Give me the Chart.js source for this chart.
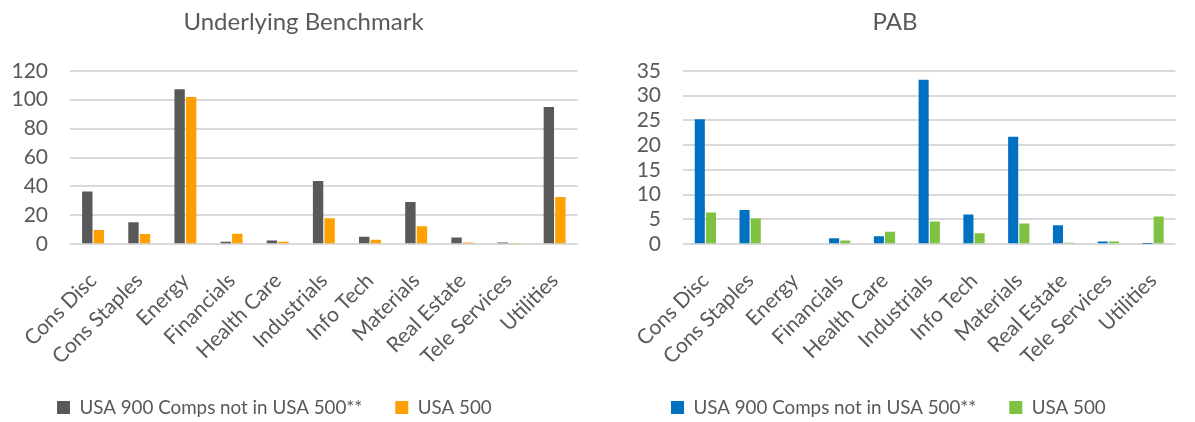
<!DOCTYPE html>
<html>
<head>
<meta charset="utf-8">
<script src="https://cdn.jsdelivr.net/npm/chart.js@4/dist/chart.umd.min.js"></script>
<style>
    html, body { margin: 0; padding: 0; background: #fff; }
    .wrap { width: 1195px; height: 422px; display: flex; }
    .box { position: relative; height: 422px; }
</style>
</head>
<body>
<div class="wrap">
    <div class="box" style="width:597px"><canvas id="bench"></canvas></div>
    <div class="box" style="width:598px"><canvas id="pab"></canvas></div>
</div>
<script>
const sectors = ["Cons Disc", "Cons Staples", "Energy", "Financials", "Health Care", "Industrials",
    "Info Tech", "Materials", "Real Estate", "Tele Services", "Utilities"];
const seriesNames = ["USA 900 Comps not in USA 500**", "USA 500"];

// Underlying Benchmark
const benchNot500 = [36.4, 15.2, 107.3, 1.7, 2.6, 43.8, 5.2, 29.2, 4.7, 1.2, 94.9];
const bench500 = [9.8, 7.0, 101.9, 7.3, 1.7, 18.0, 3.1, 12.4, 1.2, 0.5, 32.7];
const benchTicks = [0, 20, 40, 60, 80, 100, 120];

// PAB
const pabNot500 = [25.2, 6.9, 0, 1.2, 1.6, 33.2, 6.0, 21.7, 3.8, 0.55, 0.05];
const pab500 = [6.4, 5.2, 0, 0.75, 2.5, 4.6, 2.2, 4.2, 0.3, 0.55, 5.6];
const pabTicks = [0, 5, 10, 15, 20, 25, 30, 35];

const FONT = "Lato, 'Open Sans', sans-serif";
const TXT = "#595959";

// nudge legend / title sideways, Excel does not center them on the canvas
const boxShift = {
    id: 'boxShift',
    afterLayout: function (chart, args, opts) {
        chart.legend.left += opts.legend;
        chart.legend.right += opts.legend;
        chart.titleBlock.left += opts.title;
        chart.titleBlock.right += opts.title;
    }
};

function makeChart(id, title, a, b, colors, ticks, yWidth, padRight, dxLegend, dxTitle) {
    return new Chart(document.getElementById(id), {
        type: 'bar',
        data: {
            labels: sectors,
            datasets: [
                { label: seriesNames[0], data: a, backgroundColor: colors[0] },
                { label: seriesNames[1], data: b, backgroundColor: colors[1] }
            ]
        },
        plugins: [boxShift],
        options: {
            responsive: true,
            maintainAspectRatio: false,
            animation: false,
            datasets: { bar: { categoryPercentage: 0.5, barPercentage: 0.9 } },
            layout: { padding: { left: 0, right: padRight, top: 0, bottom: -5 } },
            plugins: {
                boxShift: { legend: dxLegend, title: dxTitle },
                title: {
                    display: true, text: title, color: TXT,
                    font: { family: FONT, size: 24, weight: 'normal' },
                    padding: { top: 8, bottom: 34 }
                },
                legend: {
                    position: 'bottom',
                    align: 'start',
                    labels: {
                        color: TXT, boxWidth: 13, boxHeight: 13, padding: 33,
                        font: { family: FONT, size: 18.8 }
                    }
                },
                tooltip: { enabled: false }
            },
            scales: {
                x: {
                    afterFit: function (s) { s.height = 121; },
                    grid: { display: false, drawTicks: false },
                    border: { display: false },
                    ticks: {
                        color: TXT, minRotation: 45, maxRotation: 45, autoSkip: false, padding: 24,
                        font: { family: FONT, size: 21 }
                    }
                },
                y: {
                    min: 0, max: ticks[ticks.length - 1],
                    afterBuildTicks: function (s) { s.ticks = ticks.map(v => ({ value: v })); },
                    afterFit: function (s) { s.width = yWidth; },
                    grid: { color: '#d9d9d9', lineWidth: 2, drawTicks: false },
                    border: { display: false },
                    ticks: {
                        color: TXT, padding: 22, autoSkip: false,
                        font: { family: FONT, size: 21 }
                    }
                }
            }
        }
    });
}

makeChart('bench', 'Underlying Benchmark', benchNot500, bench500, ['#595959', '#FFA000'], benchTicks, 70, 12, 24, 11);
makeChart('pab', 'PAB', pabNot500, pab500, ['#0070C0', '#7FC241'], pabTicks, 86, 2, 41, 0);
</script>
</body>
</html>
